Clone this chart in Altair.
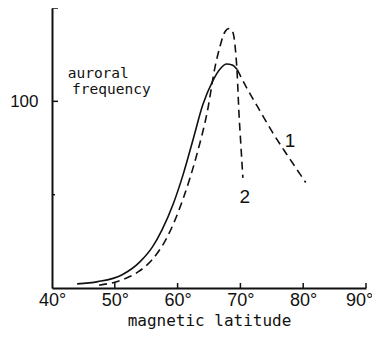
import altair as alt
import pandas as pd

# Curve 1: solid rising part, dashed falling part
c1_solid_x = [44.0, 47.3, 51.1, 54.0, 56.0, 57.5, 59.3, 60.9, 62.5, 64.0, 65.6, 66.8, 67.8, 68.7, 69.5]
c1_solid_y = [2.2, 3.4, 7.0, 14.0, 22.0, 31.0, 45.0, 61.0, 80.0, 98.0, 111.0, 117.5, 120.0, 119.5, 117.0]
c1_dash_x = [69.5, 71.2, 73.1, 75.0, 77.0, 78.5, 80.4]
c1_dash_y = [117.0, 106.0, 95.0, 84.0, 73.5, 66.0, 56.5]

# Curve 2: dashed, sharp peak
c2_x = [47.5, 51.1, 53.7, 55.9, 58.3, 60.9, 63.1, 64.7, 66.0, 66.8, 67.5, 68.2, 68.8, 69.2, 69.5, 69.75, 70.05, 70.4]
c2_y = [1.5, 4.3, 8.6, 15.0, 27.0, 48.0, 72.0, 94.0, 119.0, 130.0, 137.0, 139.0, 137.0, 128.0, 114.0, 95.0, 78.0, 59.0]

x_ticks = [40, 50, 60, 70, 80, 90]
x_inner_ticks = [50, 60, 70, 80, 90]
y_ticks = [50, 100, 150]
y_long_ticks = [100, 150]
y_short_ticks = [50]

curve_labels = ["1", "2"]
curve_label_x = [77.9, 70.7]
curve_label_y = [79.0, 49.0]

title_lines = ["auroral", "frequency"]
title_x = [42.5, 43.2]
title_y = [114.4, 106.2]

W, H = 314, 280
xs = alt.Scale(domain=[40, 90], nice=False, zero=False)
ys = alt.Scale(domain=[0, 150], nice=False, zero=False)

ink = "#111111"

df1s = pd.DataFrame({"x": c1_solid_x, "y": c1_solid_y})
df1d = pd.DataFrame({"x": c1_dash_x, "y": c1_dash_y})
df2 = pd.DataFrame({"x": c2_x, "y": c2_y})

x_enc = alt.X("x:Q", scale=xs, axis=alt.Axis(
    values=x_ticks, labelExpr="datum.label + '°'", title="magnetic latitude",
    tickSize=0, domainWidth=2, domainColor=ink, grid=False, labelFlush=False,
    labelOffset={"condition": {"test": "datum.value == 90", "value": -7}, "value": 0},
    labelFont="Liberation Sans", labelFontSize=18, labelColor=ink, labelPadding=3,
    titleFont="DejaVu Sans Mono", titleFontSize=16, titleFontWeight="normal",
    titleColor=ink, titlePadding=3))
y_enc = alt.Y("y:Q", scale=ys, axis=alt.Axis(
    values=y_ticks, labelExpr="datum.value == 100 ? '100' : ''", title=None,
    tickSize=0, domainWidth=2, domainColor=ink, grid=False,
    labelFont="Liberation Sans", labelFontSize=17, labelColor=ink, labelPadding=14))

solid = alt.Chart(df1s).mark_line(color=ink, strokeWidth=1.6, interpolate="monotone").encode(
    x=x_enc, y=y_enc)
dash1 = alt.Chart(df1d).mark_line(color=ink, strokeWidth=1.6, strokeDash=[8, 5],
                                  interpolate="monotone").encode(
    x=alt.X("x:Q", scale=xs), y=alt.Y("y:Q", scale=ys))
dash2 = alt.Chart(df2).mark_line(color=ink, strokeWidth=1.6, strokeDash=[8, 5],
                                 interpolate="monotone").encode(
    x=alt.X("x:Q", scale=xs), y=alt.Y("y:Q", scale=ys))

xt = alt.Chart(pd.DataFrame({"v": x_inner_ticks})).mark_rule(color=ink, strokeWidth=1.5).encode(
    x=alt.X("v:Q", scale=xs), y=alt.value(H), y2=alt.value(H - 5))
yt_long = alt.Chart(pd.DataFrame({"v": y_long_ticks})).mark_rule(color=ink, strokeWidth=1.5).encode(
    y=alt.Y("v:Q", scale=ys), x=alt.value(0), x2=alt.value(6))
yt_short = alt.Chart(pd.DataFrame({"v": y_short_ticks})).mark_rule(color=ink, strokeWidth=1.5).encode(
    y=alt.Y("v:Q", scale=ys), x=alt.value(0), x2=alt.value(3))

lab = alt.Chart(pd.DataFrame({"t": curve_labels, "x": curve_label_x, "y": curve_label_y})).mark_text(
    font="Liberation Sans", fontSize=19, color=ink, align="center", baseline="middle").encode(
    x=alt.X("x:Q", scale=xs), y=alt.Y("y:Q", scale=ys), text="t:N")

ttl = alt.Chart(pd.DataFrame({"t": title_lines, "x": title_x, "y": title_y})).mark_text(
    font="DejaVu Sans Mono", fontSize=14.5, color=ink, align="left", baseline="middle").encode(
    x=alt.X("x:Q", scale=xs), y=alt.Y("y:Q", scale=ys), text="t:N")

chart = alt.layer(solid, dash1, dash2, xt, yt_long, yt_short, lab, ttl).properties(
    width=W, height=H,
    autosize=alt.AutoSizeParams(type="none"),
    padding={"left": 44, "top": 0, "right": 6, "bottom": 43},
).configure(background="white", view=alt.ViewConfig(stroke=None))

chart.save("out.html", embed_options={"renderer": "svg", "actions": False})
